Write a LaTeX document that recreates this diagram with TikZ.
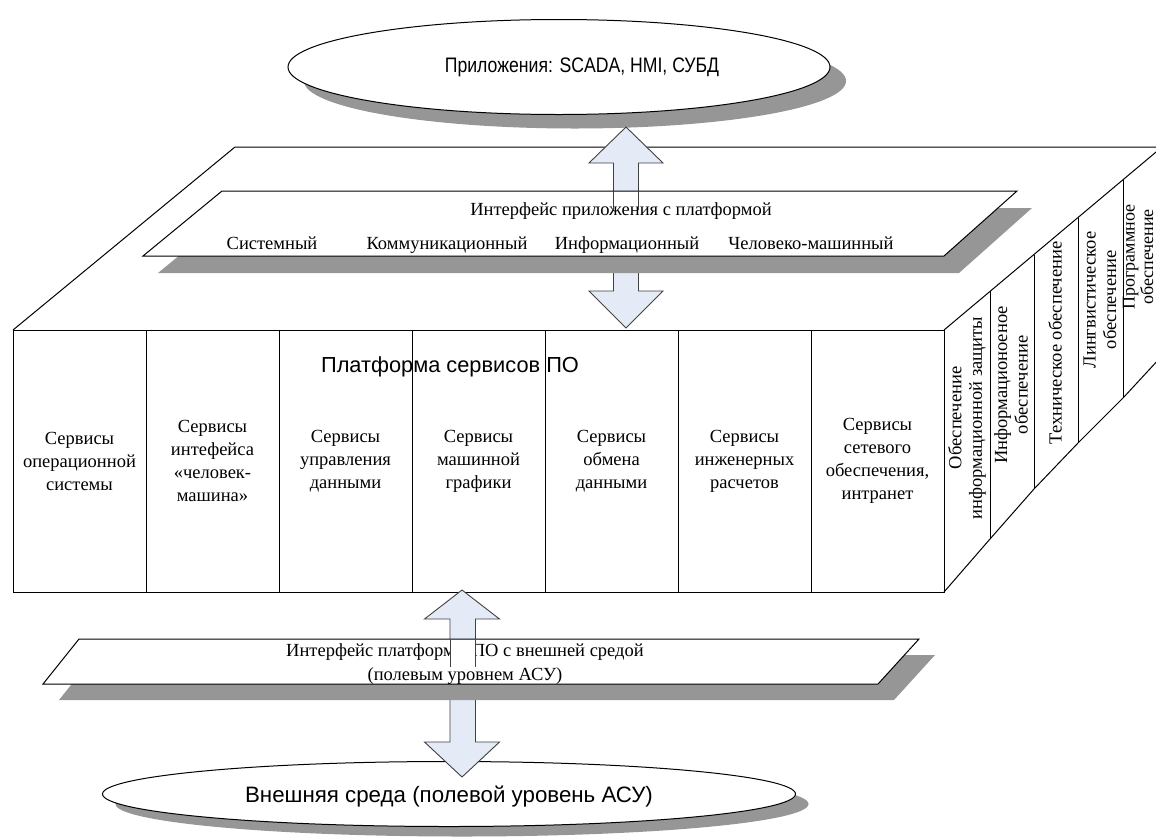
\documentclass[tikz,border=0pt]{standalone}
\usepackage{fontspec}
\setmainfont{Liberation Serif}
\newfontfamily\arialf{Liberation Sans}
\usetikzlibrary{shapes.geometric}
\definecolor{shade}{HTML}{969696}
\definecolor{arrowfill}{HTML}{E4EBF7}
\definecolor{arrowline}{HTML}{404040}
\tikzset{
  edge/.style={draw=black, line width=1pt},
  face/.style={edge, fill=white},
  shadowfill/.style={fill=shade, draw=none},
  blockarrow/.style={draw=arrowline, line width=0.9pt, fill=arrowfill, line join=miter},
  shaftline/.style={draw=arrowline, line width=0.9pt},
  serif/.style={font=\fontsize{18.5}{23}\selectfont, align=center, inner sep=0pt},
  rowtext/.style={serif, anchor=base},
  sidetext/.style={align=center, inner sep=0pt, rotate=90, font=\fontsize{18.5}{20.5}\selectfont},
  colbox/.style={draw, line width=1pt, minimum width=133, minimum height=262, serif},
  oval/.style={ellipse, draw, line width=1pt, fill=white, inner sep=0pt},
  ovalshadow/.style={ellipse, shadowfill, inner sep=0pt},
}
\begin{document}
\begin{tikzpicture}[x=1pt,y=-1pt]
\path[use as bounding box] (0,0) rectangle (1156,836);
\clip (0,0) rectangle (1156,836);

% top ellipse
\node[ovalshadow, minimum width=542, minimum height=95] (appsshadow) at (575,81) {};
\node[oval, minimum width=542, minimum height=95] (apps) at (559,67) {};
\node[font=\arialf\fontsize{21}{24}\selectfont, inner sep=0pt, xscale=0.84] (appstext) at (582,67) {Приложения: SCADA, HMI, СУБД};

% platform box: top face and right face
\draw[edge] (13,330) -- (235,147) -- (1170,147);
\draw[edge] (944,330) -- (1162,147);
\draw[edge] (944,592) -- (990,539) -- (1034,489) -- (1078,443) -- (1123,398) -- (1160,358);
\draw[edge] (990,291) -- (990,539);
\draw[edge] (1034,254.5) -- (1034,489);
\draw[edge] (1078,217.5) -- (1078,443);
\draw[edge] (1123,180) -- (1123,398);

% front face columns
\node[colbox] (c1) at (79.5,461) {Сервисы\\операционной\\системы};
\node[colbox] (c2) at (212.5,461) {Сервисы\\интефейса\\«человек-\\машина»};
\node[colbox] (c3) at (345.5,461) {Сервисы\\управления\\данными};
\node[colbox] (c4) at (478.5,461) {Сервисы\\машинной\\графики};
\node[colbox] (c5) at (611.5,461) {Сервисы\\обмена\\данными};
\node[colbox] (c6) at (744.5,461) {Сервисы\\инженерных\\расчетов};
\node[colbox] (c7) at (877.5,461) {Сервисы\\сетевого\\обеспечения,\\интранет};
\node[font=\arialf\fontsize{21.8}{24}\selectfont, inner sep=0pt] (platform) at (450,367) {Платформа сервисов ПО};

% right face texts
\node[sidetext] (s1) at (967,418) {Обеспечение\\информационной защиты};
\node[sidetext] (s2) at (1011,385) {Информационоеное\\обеспечение};
\node[sidetext] (s3) at (1055,343) {Техническое обеспечение};
\node[sidetext] (s4) at (1100,300) {Лингвистическое\\обеспечение};
\node[sidetext, font=\fontsize{18}{18.5}\selectfont] (s5) at (1138,257) {Программное\\обеспечение};

% upper double arrow
\draw[blockarrow] (626,127) -- (663,163) -- (638.5,163) -- (638.5,291) -- (663,291) -- (626,328)
  -- (589,291) -- (613.5,291) -- (613.5,163) -- (589,163) -- cycle;

% application interface plane
\fill[shadowfill] (237,208) -- (1032,208) -- (959,273) -- (158,273) -- cycle;
\draw[face] (222,191) -- (1017,191) -- (944,256) -- (143,256) -- cycle;
\node[rowtext] (apiface) at (621,215) {Интерфейс приложения с платформой};
\node[rowtext] (k1) at (272,249) {Системный};
\node[rowtext] (k2) at (447,249) {Коммуникационный};
\node[rowtext] (k3) at (627,249) {Информационный};
\node[rowtext] (k4) at (811,249) {Человеко-машинный};
\draw[shaftline] (613.5,191) -- (613.5,210) (638.5,191) -- (638.5,210);

% bottom ellipse
\node[ovalshadow, minimum width=693, minimum height=65] (envshadow) at (462,804) {};
\node[oval, minimum width=693, minimum height=65] (env) at (449,794) {};
\node[font=\arialf\fontsize{22.3}{25}\selectfont, inner sep=0pt] (envtext) at (449,797) {Внешняя среда (полевой уровень АСУ)};

% lower double arrow
\draw[blockarrow] (462,590) -- (499.5,619) -- (475.5,619) -- (475.5,742) -- (499.5,742) -- (462,777)
  -- (424.5,742) -- (450,742) -- (450,619) -- (424.5,619) -- cycle;

% external interface plane
\fill[shadowfill] (95,655) -- (935,655) -- (894,700) -- (59,700) -- cycle;
\draw[face] (79,639) -- (919,639) -- (878,684) -- (43,684) -- cycle;
\node[serif, font=\fontsize{18.5}{24}\selectfont] (extiface) at (465,664) {Интерфейс платформы ПО с внешней средой\\(полевым уровнем АСУ)};
\fill[white] (450.5,639.5) rectangle (475,667);
\draw[shaftline] (450,639.5) -- (450,667) (475.5,639.5) -- (475.5,667);
\end{tikzpicture}
\end{document}
